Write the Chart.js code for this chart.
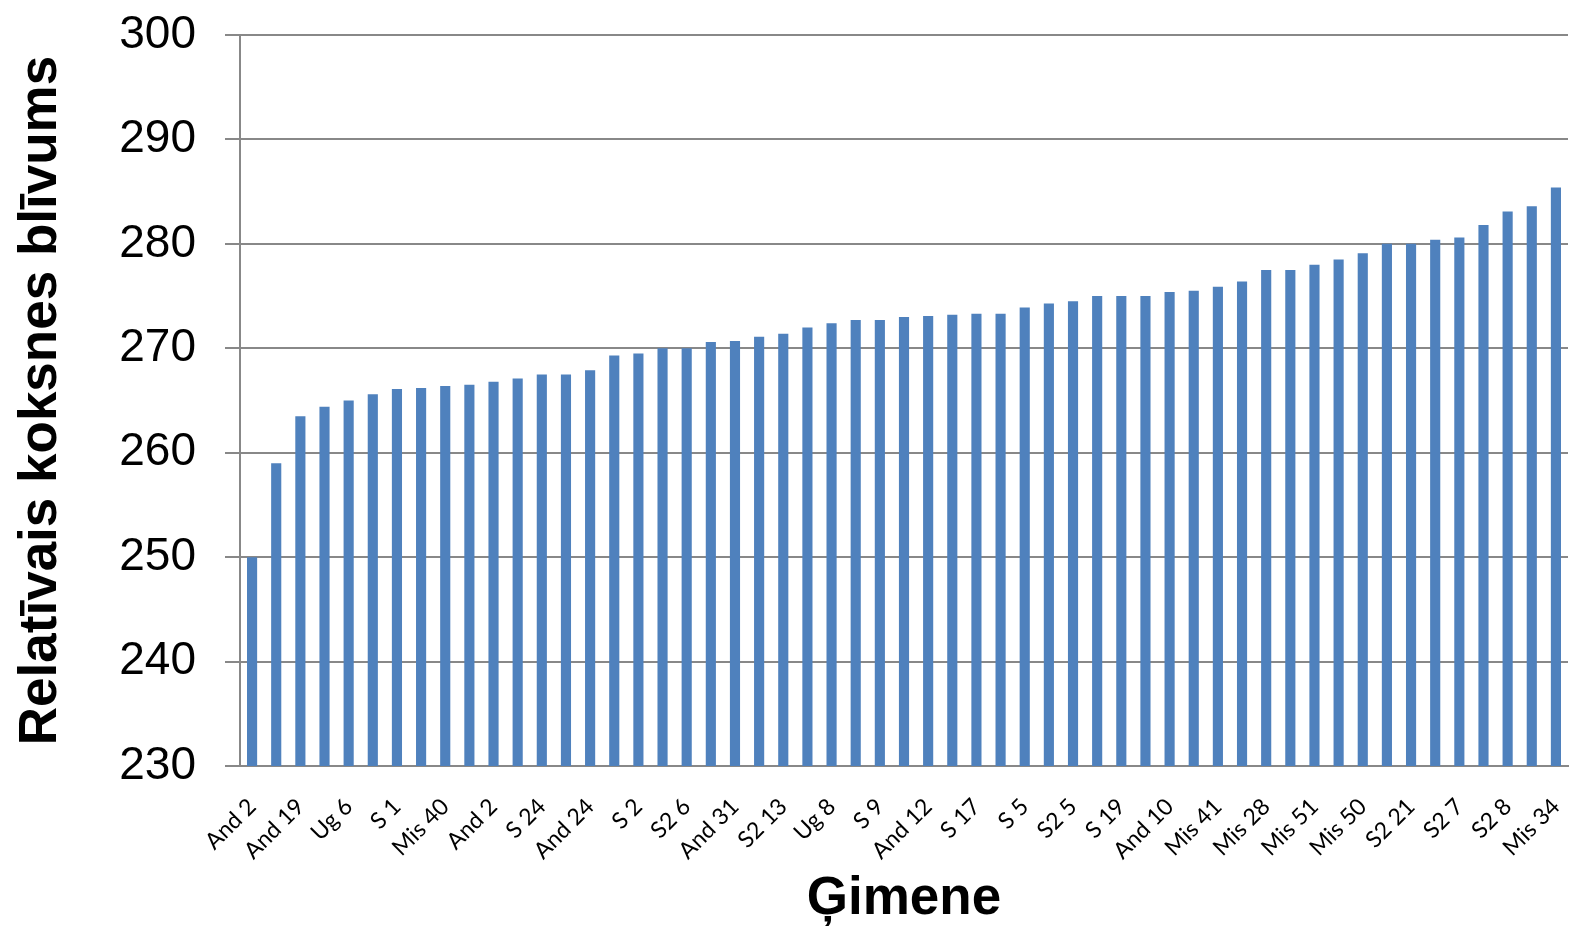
<!DOCTYPE html>
<html>
<head>
<meta charset="utf-8">
<title>Relatīvais koksnes blīvums</title>
<script src="https://cdn.jsdelivr.net/npm/chart.js@4/dist/chart.umd.min.js"></script>
<style>
    html, body { margin: 0; padding: 0; background: #fff; }
    #chart-wrap { width: 1572px; height: 927px; }
</style>
</head>
<body>
<div id="chart-wrap"><canvas id="chart-gimene" width="1572" height="927"></canvas></div>
<script>
// Ģimenes (tikai katra otrā nosaukums ir redzams attēlā)
const gimenes = [
    'And 2', '', 'And 19', '', 'Ug 6', '', 'S 1', '', 'Mis 40', '',
    'And 2', '', 'S 24', '', 'And 24', '', 'S 2', '', 'S2 6', '',
    'And 31', '', 'S2 13', '', 'Ug 8', '', 'S 9', '', 'And 12', '',
    'S 17', '', 'S 5', '', 'S2 5', '', 'S 19', '', 'And 10', '',
    'Mis 41', '', 'Mis 28', '', 'Mis 51', '', 'Mis 50', '', 'S2 21', '',
    'S2 7', '', 'S2 8', '', 'Mis 34'
];

const blivums = [
    250.0, 259.0, 263.5, 264.4, 265.0, 265.6, 266.1, 266.2, 266.4, 266.5,
    266.8, 267.1, 267.5, 267.5, 267.9, 269.3, 269.5, 270.0, 270.0, 270.6,
    270.7, 271.1, 271.4, 272.0, 272.4, 272.7, 272.7, 273.0, 273.1, 273.2,
    273.3, 273.3, 273.9, 274.3, 274.5, 275.0, 275.0, 275.0, 275.4, 275.5,
    275.9, 276.4, 277.5, 277.5, 278.0, 278.5, 279.1, 280.0, 280.0, 280.4,
    280.6, 281.8, 283.1, 283.6, 285.4
];

const yTicks = [230, 240, 250, 260, 270, 280, 290, 300];

const gridColor = '#888888';

const ctx = document.getElementById('chart-gimene');
new Chart(ctx.getContext('2d'), {
    type: 'bar',
    data: {
        labels: gimenes,
        datasets: [{
            label: 'Relatīvais koksnes blīvums',
            data: blivums,
            backgroundColor: '#4F81BD',
            borderWidth: 0,
            categoryPercentage: 1,
            barPercentage: 0.42
        }]
    },
    options: {
        responsive: false,
        devicePixelRatio: 1,
        animation: false,
        layout: { padding: { top: 35, right: 4, left: 0, bottom: 0 } },
        plugins: {
            legend: { display: false },
            tooltip: { enabled: false }
        },
        scales: {
            x: {
                grid: { display: false },
                border: { display: true, color: gridColor, width: 2 },
                ticks: {
                    autoSkip: false,
                    maxRotation: 45,
                    minRotation: 45,
                    padding: 19,
                    color: '#000',
                    font: { family: 'Lato', size: 23 }
                },
                title: {
                    display: true,
                    text: 'Ģimene',
                    color: '#000',
                    padding: { top: 0, bottom: 0 },
                    font: { family: 'Liberation Sans', weight: 'bold', size: 53, lineHeight: 1.05 }
                },
                afterFit: scale => {
                    scale.height = 161;
                    scale.paddingLeft = 0;
                    scale.paddingRight = 0;
                }
            },
            y: {
                min: yTicks[0],
                max: yTicks[yTicks.length - 1],
                afterBuildTicks: scale => {
                    scale.ticks = yTicks.map(v => ({ value: v }));
                },
                grid: {
                    color: gridColor,
                    lineWidth: 2,
                    drawTicks: true,
                    tickLength: 15
                },
                border: { display: true, color: gridColor, width: 2 },
                ticks: {
                    padding: 29,
                    color: '#000',
                    font: { family: 'Liberation Sans', size: 46 }
                },
                title: {
                    display: true,
                    text: 'Relatīvais koksnes blīvums',
                    color: '#000',
                    padding: { top: 10, bottom: 0 },
                    font: { family: 'Liberation Sans', weight: 'bold', size: 53 }
                },
                afterFit: scale => {
                    scale.width = 240;
                    scale.paddingTop = 0;
                    scale.paddingBottom = 0;
                }
            }
        }
    }
});
</script>
</body>
</html>
